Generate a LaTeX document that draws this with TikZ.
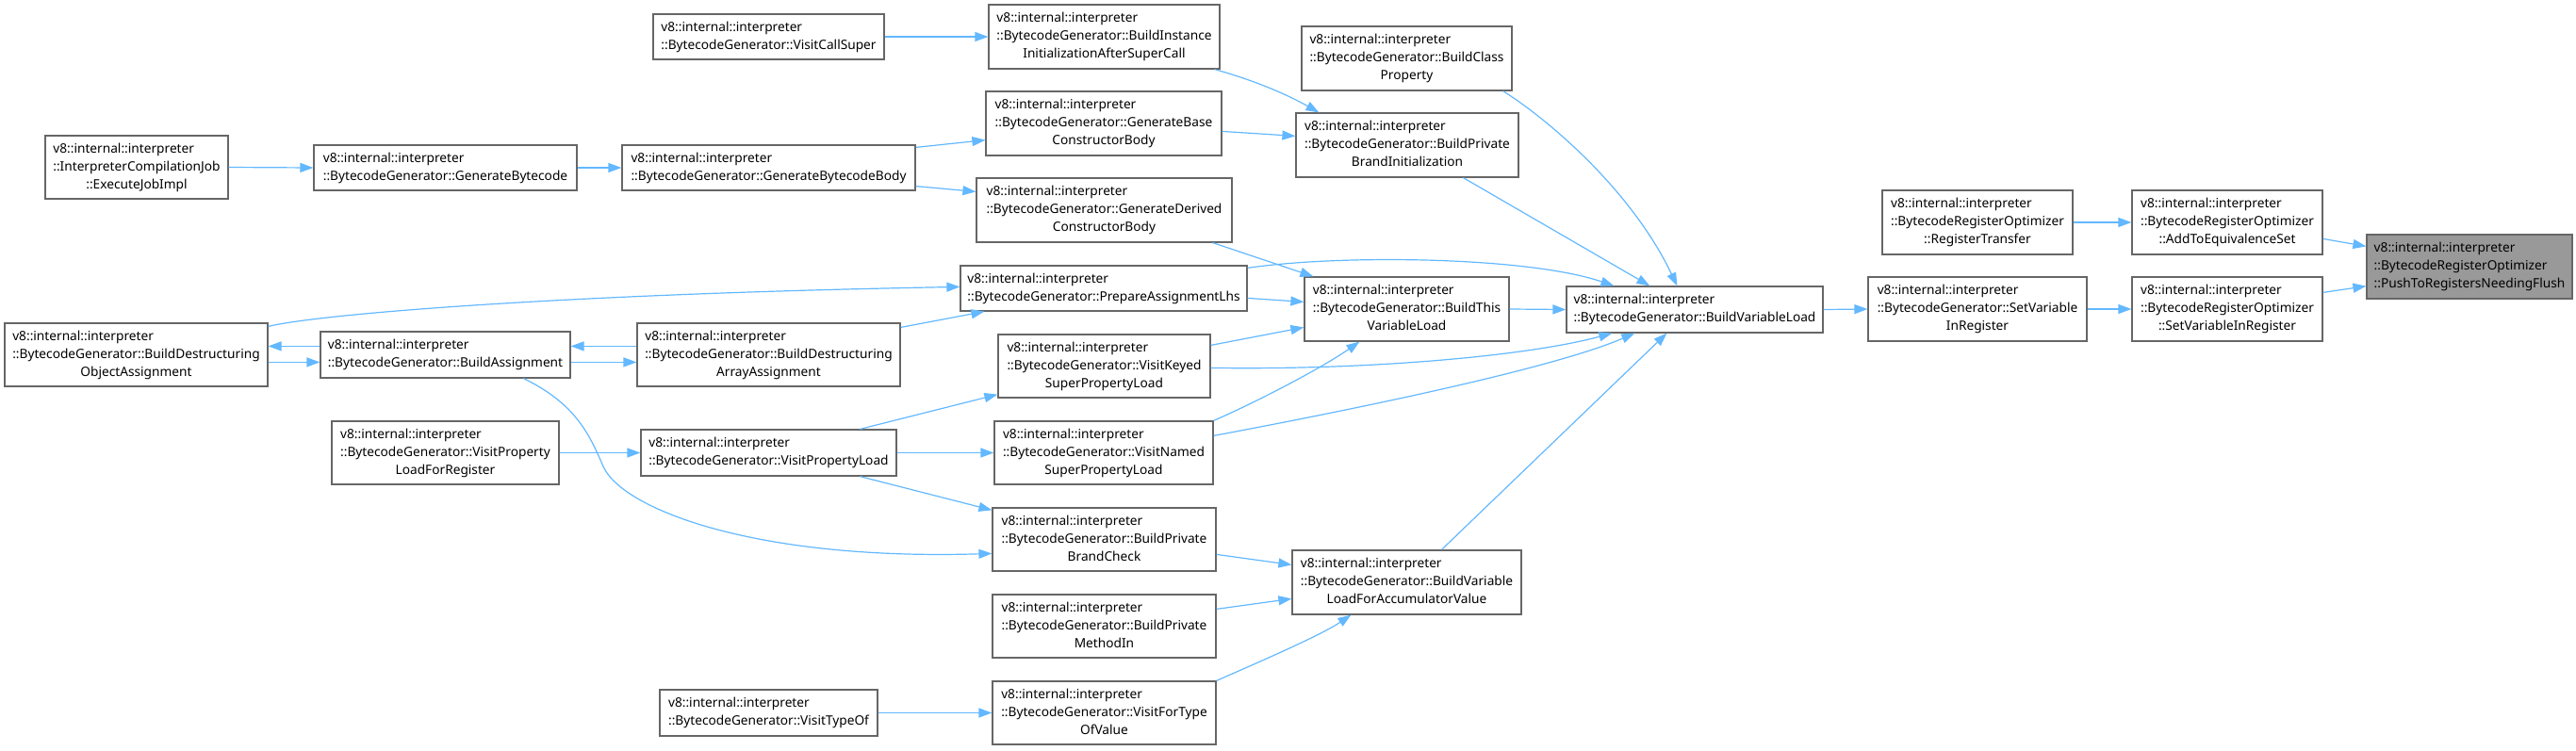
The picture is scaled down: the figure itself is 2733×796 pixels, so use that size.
\documentclass[tikz,border=0pt]{standalone}
\usepackage{fontspec}
\setmainfont{Noto Sans}
\usetikzlibrary{arrows.meta,calc}
\definecolor{edgeblue}{HTML}{63B8FF}
\definecolor{boxgray}{HTML}{666666}
\definecolor{targetfill}{HTML}{999999}
\newcommand{\Ltwo}[1]{\begin{tabular}{@{}l@{}}v8::internal::interpreter\\\multicolumn{1}{@{}c@{}}{#1}\end{tabular}}
\newcommand{\Lthree}[2]{\begin{tabular}{@{}l@{}}v8::internal::interpreter\\#1\\\multicolumn{1}{@{}c@{}}{#2}\end{tabular}}
\tikzset{
  fn/.style={draw=boxgray, line width=1.2pt, fill=white, inner sep=0pt, font=\fontsize{13.7}{19}\selectfont, text=black},
  wh/.style 2 args={minimum width=#1pt, minimum height=#2pt},
  target/.style={fill=targetfill},
  edge/.style={draw=edgeblue, line width=1.2pt, -{Triangle[length=14pt,width=10pt]}}
}
\begin{document}
\begin{tikzpicture}[x=1pt,y=-1pt]
\useasboundingbox (0,0) rectangle (2733,796);
% nodes
\node[fn, wh={194}{67}] (exec) at (145,177.5) {\Lthree{::InterpreterCompilationJob}{::ExecuteJobImpl}};
\node[fn, wh={279}{48}] (genbc) at (472.5,178) {\Ltwo{::BytecodeGenerator::GenerateBytecode}};
\node[fn, wh={311}{48}] (genbody) at (815.5,178) {\Ltwo{::BytecodeGenerator::GenerateBytecodeBody}};
\node[fn, wh={245}{48}] (callsuper) at (815.5,39) {\Ltwo{::BytecodeGenerator::VisitCallSuper}};
\node[fn, wh={245}{68}] (biiasc) at (1171.5,39) {\Lthree{::BytecodeGenerator::BuildInstance}{InitializationAfterSuperCall}};
\node[fn, wh={250}{68}] (gbase) at (1171,131) {\Lthree{::BytecodeGenerator::GenerateBase}{ConstructorBody}};
\node[fn, wh={271}{68}] (gderived) at (1171.5,223) {\Lthree{::BytecodeGenerator::GenerateDerived}{ConstructorBody}};
\node[fn, wh={304}{48}] (prep) at (1171,306) {\Ltwo{::BytecodeGenerator::PrepareAssignmentLhs}};
\node[fn, wh={279}{67}] (bdoa) at (144.5,376.5) {\Lthree{::BytecodeGenerator::BuildDestructuring}{ObjectAssignment}};
\node[fn, wh={265}{49}] (bassign) at (472.5,376.5) {\Ltwo{::BytecodeGenerator::BuildAssignment}};
\node[fn, wh={279}{67}] (bdaa) at (815.5,376.5) {\Lthree{::BytecodeGenerator::BuildDestructuring}{ArrayAssignment}};
\node[fn, wh={225}{67}] (vkeyed) at (1171.5,388.5) {\Lthree{::BytecodeGenerator::VisitKeyed}{SuperPropertyLoad}};
\node[fn, wh={241}{67}] (vplfr) at (472.5,480.5) {\Lthree{::BytecodeGenerator::VisitProperty}{LoadForRegister}};
\node[fn, wh={271}{49}] (vpl) at (815.5,480.5) {\Ltwo{::BytecodeGenerator::VisitPropertyLoad}};
\node[fn, wh={232}{67}] (vnamed) at (1171,480.5) {\Lthree{::BytecodeGenerator::VisitNamed}{SuperPropertyLoad}};
\node[fn, wh={237}{67}] (bpbc) at (1171.5,572.5) {\Lthree{::BytecodeGenerator::BuildPrivate}{BrandCheck}};
\node[fn, wh={237}{67}] (bpmi) at (1171.5,664.5) {\Lthree{::BytecodeGenerator::BuildPrivate}{MethodIn}};
\node[fn, wh={237}{67}] (vftov) at (1171.5,756.5) {\Lthree{::BytecodeGenerator::VisitForType}{OfValue}};
\node[fn, wh={231}{49}] (vtypeof) at (815.5,756.5) {\Ltwo{::BytecodeGenerator::VisitTypeOf}};
\node[fn, wh={223}{68}] (bclassprop) at (1492.5,62) {\Lthree{::BytecodeGenerator::BuildClass}{Property}};
\node[fn, wh={236}{68}] (bpbi) at (1493,154) {\Lthree{::BytecodeGenerator::BuildPrivate}{BrandInitialization}};
\node[fn, wh={217}{68}] (btvl) at (1492.5,328) {\Lthree{::BytecodeGenerator::BuildThis}{VariableLoad}};
\node[fn, wh={243}{68}] (bvlfav) at (1492.5,618) {\Lthree{::BytecodeGenerator::BuildVariable}{LoadForAccumulatorValue}};
\node[fn, wh={272}{49}] (bvl) at (1798,328.5) {\Ltwo{::BytecodeGenerator::BuildVariableLoad}};
\node[fn, wh={232}{68}] (bgsvir) at (2098,328) {\Lthree{::BytecodeGenerator::SetVariable}{InRegister}};
\node[fn, wh={202}{68}] (regtransfer) at (2098,236) {\Lthree{::BytecodeRegisterOptimizer}{::RegisterTransfer}};
\node[fn, wh={202}{68}] (addeq) at (2363,236) {\Lthree{::BytecodeRegisterOptimizer}{::AddToEquivalenceSet}};
\node[fn, wh={202}{68}] (brosvir) at (2363,328) {\Lthree{::BytecodeRegisterOptimizer}{::SetVariableInRegister}};
\node[fn, target, wh={218}{68}] (push) at (2620,283) {\Lthree{::BytecodeRegisterOptimizer}{::PushToRegistersNeedingFlush}};
% edges
\draw[edge] (exec.east) -- (genbc.west);
\draw[edge] (genbc.east) -- (genbody.west);
\draw[edge] ($(genbody.north east)+(0,3)$) -- ($(gbase.south west)+(0,-17)$);
\draw[edge] ($(genbody.south east)+(0,-5)$) -- ($(gderived.north west)+(0,15)$);
\draw[edge] (callsuper.east) -- (biiasc.west);
\draw[edge] ($(biiasc.south east)+(-6,0)$) .. controls (1330,85) and (1365,100) .. ($(bpbi.north west)+(25,0)$);
\draw[edge] ($(gbase.north east)+(0,43)$) -- ($(bpbi.north west)+(0,25)$);
\draw[edge] ($(gderived.south east)+(-21,0)$) -- ($(btvl.north west)+(10,0)$);
\draw[edge] ($(prep.north east)+(0,35)$) -- ($(btvl.north west)+(0,27)$);
\draw[edge] ($(prep.north east)+(0,3)$) .. controls (1420,270) and (1620,272) .. ($(bvl.north west)+(51,0)$);
\draw[edge] (btvl.east) -- (bvl.west);
\draw[edge] ($(bclassprop.south east)+(-10,0)$) .. controls (1640,125) and (1730,200) .. ($(bvl.north west)+(118,0)$);
\draw[edge] ($(bpbi.south west)+(178,0)$) -- ($(bvl.north west)+(89,0)$);
\draw[edge] ($(vkeyed.north east)+(0,12)$) -- ($(btvl.north west)+(0,54)$);
\draw[edge] ($(vkeyed.north east)+(0,36)$) .. controls (1450,393) and (1620,378) .. ($(bvl.south west)+(49,0)$);
\draw[edge] (vnamed.north east) .. controls (1330,428) and (1400,392) .. ($(btvl.south west)+(59,0)$);
\draw[edge] ($(vnamed.north east)+(0,16)$) .. controls (1450,432) and (1650,390) .. ($(bvl.south west)+(73,0)$);
\draw[edge] ($(bvlfav.north west)+(159,0)$) -- ($(bvl.south west)+(107,0)$);
\draw[edge] (bvl.east) -- (bgsvir.west);
\draw[edge] (bgsvir.east) -- (brosvir.west);
\draw[edge] (regtransfer.east) -- (addeq.west);
\draw[edge] ($(addeq.north east)+(0,52)$) -- ($(push.north west)+(0,13)$);
\draw[edge] ($(brosvir.north east)+(0,17)$) -- ($(push.south west)+(0,-14)$);
\draw[edge] ($(bdoa.north east)+(0,4)$) .. controls (340,333) and (600,312) .. ($(prep.north west)+(0,23)$);
\draw[edge] ($(bdoa.north east)+(0,42)$) -- ($(bassign.north west)+(0,33)$);
\draw[edge] ($(bassign.north west)+(0,16)$) -- ($(bdoa.north east)+(0,25)$);
\draw[edge] ($(bassign.north east)+(0,33)$) -- ($(bdaa.north west)+(0,42)$);
\draw[edge] ($(bdaa.north west)+(0,25)$) -- ($(bassign.north east)+(0,16)$);
\draw[edge] ($(bdaa.north east)+(0,5)$) -- ($(prep.south west)+(26,0)$);
\draw[edge] ($(bassign.south west)+(216,0)$) .. controls (610,428) and (625,460) .. (640,495) .. controls (660,540) and (800,595) .. ($(bpbc.north west)+(0,49)$);
\draw[edge] (vplfr.east) -- (vpl.west);
\draw[edge] ($(vpl.north west)+(233,0)$) -- ($(vkeyed.south west)+(0,-4)$);
\draw[edge] (vpl.east) -- (vnamed.west);
\draw[edge] ($(vpl.south west)+(233,0)$) -- ($(bpbc.north west)+(0,3)$);
\draw[edge] ($(bpbc.north east)+(0,50)$) -- ($(bvlfav.north west)+(0,16)$);
\draw[edge] ($(bpmi.north east)+(0,16)$) -- ($(bvlfav.north west)+(0,52)$);
\draw[edge] (vftov.north east) .. controls (1330,705) and (1400,675) .. ($(bvlfav.south west)+(63,0)$);
\draw[edge] (vtypeof.east) -- (vftov.west);
\end{tikzpicture}
\end{document}
